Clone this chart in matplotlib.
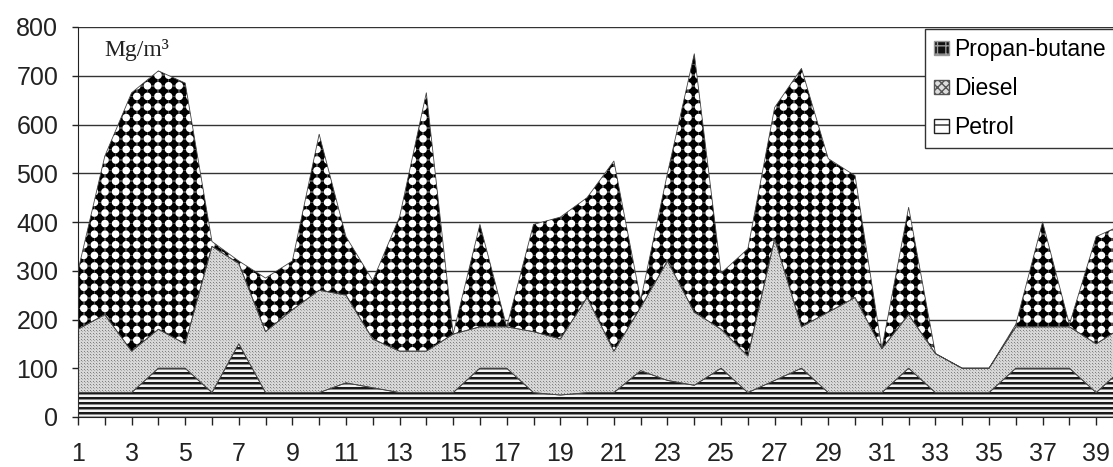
import numpy as np
import matplotlib
matplotlib.use('Agg')
import matplotlib.pyplot as plt
from matplotlib.patches import Patch

# daily concentrations, Mg/m3
days = np.arange(1, 41)
petrol = np.array([50, 50, 50, 100, 100, 50, 150, 50, 50, 50,
                   70, 60, 50, 50, 50, 100, 100, 50, 45, 50,
                   50, 95, 75, 65, 100, 50, 75, 100, 50, 50,
                   50, 100, 50, 50, 50, 100, 100, 100, 50, 100])
diesel_top = np.array([180, 210, 135, 180, 150, 350, 315, 175, 220, 260,
                       250, 160, 135, 135, 170, 185, 185, 175, 160, 245,
                       135, 225, 320, 215, 180, 125, 365, 185, 215, 245,
                       140, 210, 130, 100, 100, 185, 185, 185, 150, 185])
propan_top = np.array([300, 535, 665, 710, 685, 360, 320, 285, 320, 580,
                       370, 280, 410, 665, 170, 395, 185, 395, 410, 450,
                       525, 240, 500, 745, 295, 345, 635, 715, 530, 495,
                       140, 430, 130, 100, 100, 190, 400, 190, 370, 395])
diesel = diesel_top - petrol
propan_butane = propan_top - diesel_top

series = [petrol, diesel, propan_butane]
names = ['Petrol', 'Diesel', 'Propan-butane']
y_ticks = np.arange(0, 801, 100)

W, H = 1113, 467
fig = plt.figure(figsize=(W / 100, H / 100), dpi=100)
ax = fig.add_axes([78 / W, 50 / H, (1123 - 78) / W, 390 / H])


def pixel_grid(ax):
    bb = ax.get_window_extent()
    w, h = int(round(bb.width)), int(round(bb.height))
    return np.mgrid[0:h, 0:w]


def dot_texture(yy, xx, step, r):
    dx = (xx % step) - step / 2
    dy = (yy % step) - step / 2
    return np.clip(r + 0.7 - np.hypot(dx, dy), 0, 1)


yy, xx = pixel_grid(ax)
# black with white dots, faint white lattice between them
tex_propan = dot_texture(yy, xx, 10.6, 3.6)
lattice = (np.abs((xx % 10.6) - 5.3) < 0.8) | (np.abs((yy % 10.6) - 5.3) < 0.8)
tex_propan = np.maximum(tex_propan, 0.3 * lattice)
# light grey stipple
tex_diesel = np.where((xx % 3 == 0) & (yy % 3 == 0), 0.5, 0.84)
tex_diesel = np.where((xx % 3 == 1) & (yy % 3 == 1), 0.68, tex_diesel)
# horizontal stripes
stripe = yy % 5
tex_petrol = np.select([stripe < 2, stripe == 2], [0.1, 0.55], 0.95)

polys = ax.stackplot(days, *series, colors=['none'] * 3,
                     edgecolor='#444444', linewidth=0.6, zorder=3)
for poly, tex in zip(polys, [tex_petrol, tex_diesel, tex_propan]):
    im = ax.imshow(tex, cmap='gray', vmin=0, vmax=1, aspect='auto',
                   interpolation='nearest', extent=(1, 40, 0, 800), zorder=2)
    im.set_clip_path(poly.get_paths()[0], ax.transData)

ax.set_xlim(1, 40)
ax.set_ylim(0, 800)
ax.set_axisbelow(True)
ax.yaxis.grid(True, color='#333333', linewidth=1.0)
for side in ['top', 'right']:
    ax.spines[side].set_visible(False)
ax.spines['left'].set_color('#222222')
ax.spines['bottom'].set_color('#222222')

ax.set_yticks(y_ticks)
ax.set_yticklabels([str(v) for v in y_ticks])
ax.set_xticks(days)
ax.set_xticklabels([str(d) if d % 2 == 1 else '' for d in days])
ax.tick_params(axis='y', length=4.3, width=1, pad=10, labelsize=18,
               colors='#222222')
ax.tick_params(axis='x', length=5.8, width=1, pad=12, labelsize=18,
               colors='#222222')
for lab in ax.get_xticklabels() + ax.get_yticklabels():
    lab.set_family('Liberation Sans')

ax.text(2.0, 753, 'Mg/m³', family='Liberation Serif', fontsize=17,
        va='center', ha='left', color='#222222')

handles = [
    Patch(facecolor='#111111', edgecolor='#999999', hatch='++', label='Propan-butane'),
    Patch(facecolor='#dddddd', edgecolor='#555555', hatch='xxxx', label='Diesel'),
    Patch(facecolor='white', edgecolor='#222222', hatch='-', label='Petrol'),
]
leg = fig.legend(handles=handles, loc='upper left',
                 bbox_to_anchor=(925 / W, 1 - 29 / H), bbox_transform=fig.transFigure,
                 borderaxespad=0, prop={'family': 'Liberation Sans', 'size': 16.5},
                 handlelength=0.65, handleheight=0.6, handletextpad=0.2,
                 labelspacing=0.7, borderpad=0.4, fancybox=False, framealpha=1)
leg.get_frame().set_edgecolor('#333333')
leg.get_frame().set_linewidth(1.0)

fig.savefig('out.png', dpi=100)
